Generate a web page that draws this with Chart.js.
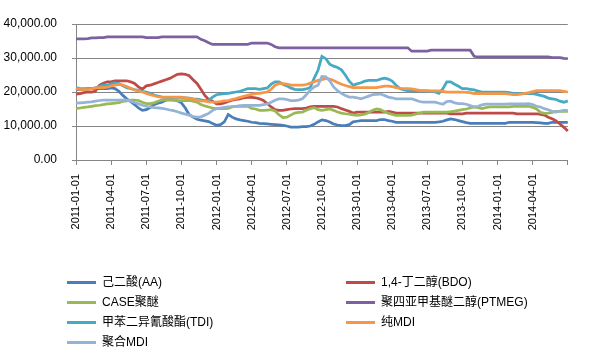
<!DOCTYPE html>
<html>
<head>
<meta charset="utf-8">
<script src="https://cdn.jsdelivr.net/npm/chart.js@4.4.1/dist/chart.umd.min.js"></script>
<style>
  html, body { margin: 0; padding: 0; background: #fff; }
  #wrap { position: relative; width: 590px; height: 356px; }
  #legend { position: absolute; left: 0; top: 0; width: 590px; height: 356px; pointer-events: none;
            font-family: "Liberation Sans", "Noto Sans CJK SC", sans-serif; font-size: 12px; color: #000; }
  .item { position: absolute; height: 20px; line-height: 20px; white-space: nowrap; }
  .item .sw { position: absolute; left: 0; top: 9px; width: 29px; height: 3px; }
  .item .tx { position: absolute; left: 35px; top: 0; }
</style>
</head>
<body>
<div id="wrap">
  <canvas id="c" width="590" height="356"></canvas>
  <div id="legend"></div>
</div>
<script>
// Category axis: points on the 1st, 11th and 21st of each month, 2011-01-01 .. 2014-07-01
const startYear = 2011, endYear = 2014;
const categories = [];
for (let y = startYear; y <= endYear; y++) {
  for (let m = 1; m <= 12; m++) {
    if (y === endYear && m > 6) break;
    for (const d of [1, 11, 21]) {
      categories.push(y + '-' + String(m).padStart(2, '0') + '-' + String(d).padStart(2, '0'));
    }
  }
}
categories.push('2014-07-01');

// Tick labels shown on the x axis
const tickLabels = ['2011-01-01','2011-04-01','2011-07-01','2011-10-01','2012-01-01','2012-04-01','2012-07-01',
  '2012-10-01','2013-01-01','2013-04-01','2013-07-01','2013-10-01','2014-01-01','2014-04-01'];
const yTicks = [0, 10000, 20000, 30000, 40000];

const seriesNames = ['己二酸(AA)', '1,4-丁二醇(BDO)', 'CASE聚醚', '聚四亚甲基醚二醇(PTMEG)', '甲苯二异氰酸酯(TDI)', '纯MDI', '聚合MDI'];
const seriesColors = ['#4A7EBB', '#BE4B48', '#98B954', '#7D60A0', '#46AAC5', '#F79646', '#95B3D7'];

const aa = [20700,20700,20800,20900,21000,21000,21000,21000,21000,21200,21000,
  20200,19000,18000,17200,16300,15300,14600,14800,15400,16300,16700,
  17000,17600,17700,17700,17400,16800,15300,13300,12600,12000,11700,
  11500,11300,10700,10200,10400,11200,13400,12600,12100,11800,11600,
  11400,11100,11000,10800,10700,10600,10500,10400,10300,10200,10000,
  9700,9700,9700,9800,9800,10000,10500,11200,11800,11600,11200,
  10600,10300,10100,10100,10400,11200,11400,11600,11600,11600,11600,
  11600,11900,11900,11600,11400,11100,11100,11100,11100,11100,11100,
  11100,11100,11100,11100,11100,11200,11400,11800,12100,11900,11600,
  11300,11000,10800,10800,10800,10800,10800,10800,10800,10800,10800,
  10800,11100,11100,11100,11100,11100,11100,11100,11000,10900,10800,
  10800,11100,11100,11100,11100,11100];

const bdo = [19400,19500,19800,20000,20000,20300,22000,22600,23000,23000,23300,
  23300,23300,23300,23000,22500,21500,20800,21800,22000,22400,22800,
  23200,23600,24000,24600,25200,25300,25200,24800,23600,22500,20800,
  19000,17800,17300,16500,16500,16800,17200,17600,17800,18000,18300,
  18400,18400,18300,18000,17500,16600,15600,14800,14600,14600,14800,
  15000,15100,15100,15100,15300,15600,15800,15800,15800,15800,15800,
  15800,15600,15100,14700,14300,13800,14100,14100,14100,14100,14100,
  14100,14100,14100,14300,14100,13800,13800,13800,13800,13800,13800,
  13800,13800,13800,13800,13800,13800,13800,13800,13600,13600,13600,
  13600,13800,13800,13800,13800,13800,13800,13800,13800,13800,13800,
  13800,13800,13800,13600,13600,13600,13600,13600,13600,13400,13200,
  12600,12100,11500,10600,9600,8500];

const caseEther = [15100,15300,15500,15600,15800,16000,16100,16300,16500,16600,16700,
  16900,17200,17400,17600,17600,17500,17000,16600,16600,16800,17300,
  17600,17700,17700,17600,17500,17500,17500,17500,17300,17000,16300,
  15900,15600,15300,15100,15100,15100,15200,15600,15800,15800,15800,
  15800,15200,15000,14600,14600,14700,14800,14400,13300,12500,12600,
  13200,13800,14000,14100,14600,15100,15400,14800,14600,14800,15000,
  14600,14100,13800,13600,13500,13300,13100,13300,13500,14000,14600,
  15000,14800,14200,13800,13400,13100,13100,13100,13100,13200,13500,
  13800,14100,14100,14100,14100,14100,14100,14100,14200,14400,14600,
  14800,15000,15300,15600,15400,15100,15400,15600,15600,15600,15600,
  15600,15600,15800,15800,15800,15800,15800,15500,15000,14000,13700,
  13800,14000,14300,14300,14300,14300];

const ptmeg = [35600,35600,35600,35700,35900,35900,36000,36000,36200,36200,36200,
  36200,36200,36200,36200,36200,36200,36200,36000,36000,36000,36000,
  36200,36200,36200,36200,36200,36200,36200,36200,36200,36200,35500,
  35100,34500,34000,34000,34000,34000,34000,34000,34000,34000,34000,
  34000,34400,34400,34400,34400,34400,34000,33300,33000,33000,33000,
  33000,33000,33000,33000,33000,33000,33000,33000,33000,33000,33000,
  33000,33000,33000,33000,33000,33000,33000,33000,33000,33000,33000,
  33000,33000,33000,33000,33000,33000,33000,33000,33000,32000,32000,
  32000,32000,32000,32300,32300,32300,32300,32300,32300,32300,32300,
  32300,32300,32300,30500,30300,30300,30300,30300,30300,30300,30300,
  30300,30300,30300,30300,30300,30300,30300,30300,30300,30300,30300,
  30300,30100,30100,30100,29900,29800];

const tdi = [21300,21000,21000,21000,21000,21200,21700,22000,22000,22400,22700,
  22500,21800,21300,21000,20700,20500,20200,20000,19600,19100,18800,
  18500,18400,18400,18400,18400,18400,18300,18200,18000,17900,17700,
  17500,17600,18500,19200,19400,19500,19600,19800,20000,20200,20600,
  21000,21000,21000,20800,21000,21200,22300,23000,23000,22300,21800,
  21200,20800,20700,20700,20900,21300,24000,26400,30500,29800,28200,
  27600,27200,26500,25000,23200,22000,22400,22700,23200,23400,23400,
  23400,23800,24100,23800,23200,22000,21000,20600,20400,20300,20300,
  20300,20300,20300,20200,20000,19600,21000,23000,23000,22300,21700,
  21000,21000,20800,20600,20300,20000,20000,20000,20000,20000,20000,
  20000,19800,19600,19500,19500,19500,19500,19500,19300,19000,18700,
  18200,18000,17800,17300,17000,17400];

const pureMdi = [21000,20800,20700,20700,20900,21200,21300,21300,21400,21800,22000,
  22200,22000,21600,21100,20600,20300,20000,19600,19200,18900,18600,
  18500,18500,18500,18500,18500,18500,18300,18100,17900,17600,17400,
  17300,17100,17000,17000,17200,17400,17500,17800,18100,18400,18700,
  19000,19300,19500,19600,19800,20000,20800,22000,22500,22500,22300,
  22000,22000,22000,22000,22200,22600,23000,23400,23600,24000,23800,
  23400,22800,22300,21900,21600,21300,21300,21300,21300,21300,21300,
  21300,21500,21700,21700,21600,21300,21100,21000,21000,20900,20700,
  20500,20400,20300,20300,20300,20300,20200,20000,20000,20000,20000,
  20000,19900,19800,19500,19500,19500,19500,19500,19500,19500,19500,
  19500,19400,19200,19200,19400,19600,19800,20100,20400,20400,20400,
  20400,20400,20400,20400,20200,20000];

const polyMdi = [16700,16800,16900,17000,17100,17300,17500,17600,17600,17600,17600,
  17600,17600,17600,17300,16900,16500,16100,15800,15600,15400,15300,
  15200,15000,14700,14500,14200,13800,13500,13200,12800,12600,12700,
  13200,13700,14600,15100,15300,15500,15600,15700,15800,16000,16100,
  16100,16100,16100,16100,16300,16500,17000,17600,18000,18000,17800,
  17500,17500,17600,18000,19200,20500,21500,22000,24600,24500,23300,
  21500,20400,19600,19000,18500,18500,18300,18000,18400,18800,19200,
  19300,19400,19000,18500,18300,18000,18000,18000,18000,18000,17600,
  17200,17000,17000,17000,17000,16700,16400,17200,17300,16800,16600,
  16600,16400,16000,15600,15800,16200,16400,16400,16400,16400,16400,
  16400,16500,16500,16500,16500,16500,16600,16300,15800,15600,15100,
  14800,14300,14100,14400,14600,14600];

const seriesValues = [aa, bdo, caseEther, ptmeg, tdi, pureMdi, polyMdi];

const FONT = '"Liberation Sans", "Noto Sans CJK SC", sans-serif';
Chart.defaults.font.family = FONT;

const datasets = seriesNames.map((name, i) => ({
  label: name,
  data: seriesValues[i],
  borderColor: seriesColors[i],
  backgroundColor: seriesColors[i],
  borderWidth: 2.75,
  pointRadius: 0,
  tension: 0,
  fill: false,
  order: seriesNames.length - i
}));

const chart = new Chart(document.getElementById('c'), {
  type: 'line',
  data: { labels: categories, datasets },
  options: {
    responsive: false,
    animation: false,
    devicePixelRatio: 1,
    layout: { padding: { top: 24, right: 3, bottom: 0, left: 0 } },
    plugins: { legend: { display: false }, tooltip: { enabled: false } },
    scales: {
      x: {
        type: 'category',
        offset: false,
        grid: { drawOnChartArea: false, color: '#868686', tickLength: 5 },
        border: { color: '#868686' },
        ticks: {
          autoSkip: false, minRotation: 90, maxRotation: 90, padding: 9,
          color: '#000', font: { size: 11, family: FONT },
          callback: function (value, index) {
            const lab = this.getLabelForValue(value);
            if (tickLabels.includes(lab)) return lab;
            if (index === categories.length - 1) return '';
            return null;
          }
        },
        afterFit: (s) => { s.height = 196; }
      },
      y: {
        min: yTicks[0], max: yTicks[yTicks.length - 1],
        afterBuildTicks: (s) => { s.ticks = yTicks.map(v => ({ value: v })); },
        grid: { color: '#868686', tickLength: 4 },
        border: { color: '#868686' },
        ticks: {
          padding: 15, color: '#000', font: { size: 12, family: FONT },
          callback: (v) => Number(v).toLocaleString('en-US', { minimumFractionDigits: 2, maximumFractionDigits: 2 })
        },
        afterFit: (s) => { s.width = 76; }
      }
    }
  }
});

// Two-column legend built from the chart's datasets
const legend = document.getElementById('legend');
const colX = [67, 346];
const rowY = [272, 292, 312, 332];
chart.data.datasets.forEach((ds, i) => {
  const el = document.createElement('div');
  el.className = 'item';
  el.style.left = colX[i % 2] + 'px';
  el.style.top = rowY[Math.floor(i / 2)] + 'px';
  const sw = document.createElement('span');
  sw.className = 'sw';
  sw.style.background = ds.borderColor;
  const tx = document.createElement('span');
  tx.className = 'tx';
  tx.textContent = ds.label;
  el.appendChild(sw); el.appendChild(tx);
  legend.appendChild(el);
});
</script>
</body>
</html>
